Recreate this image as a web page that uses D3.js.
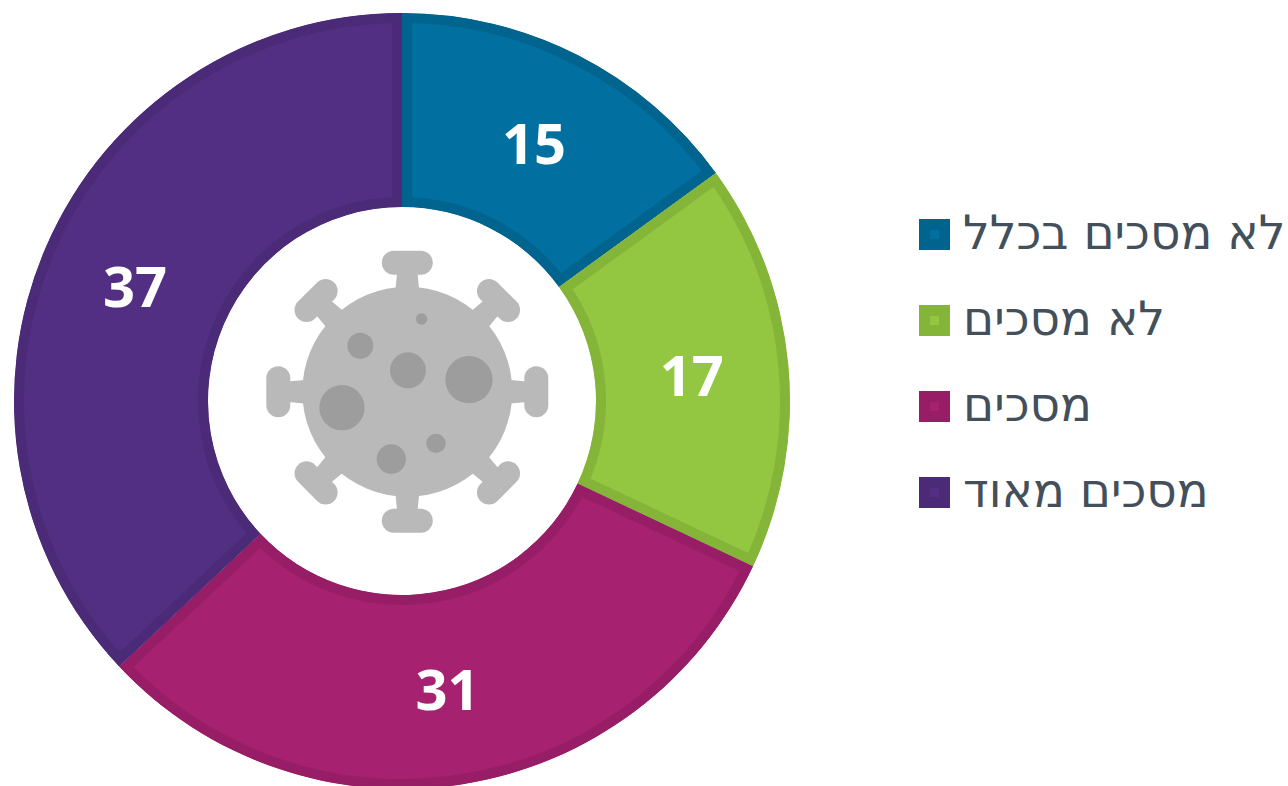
<!DOCTYPE html>
<html><head><meta charset="utf-8">
<script src="https://cdn.jsdelivr.net/npm/d3@7"></script>
<style>html,body{margin:0;padding:0;background:#fff;overflow:hidden}svg{display:block}</style>
</head><body><svg id="c" width="1288" height="786"></svg>
<script>
const categories = ["לא מסכים בכלל","לא מסכים","מסכים","מסכים מאוד"];
const values = [15,17,31,37];
const fills = ["#016FA0","#93C741","#A62170","#532F84"];
const edges = ["#00648F","#85B538","#971E66","#4B2B78"];

const svg = d3.select("#c");
const cx=402, cy=401, R=388, r=194, border=10;
const font = "'Open Sans', sans-serif";
const legendFont = "'DejaVu Sans', sans-serif";
const root = svg.append("g").attr("transform",`translate(${cx},${cy})`);
const pie = d3.pie().sort(null)(values);
const arc = d3.arc().innerRadius(r).outerRadius(R);
const labelArc = d3.arc().innerRadius(R-97).outerRadius(R-97);
const defs = svg.append("defs");
pie.forEach((d,i)=>{
  defs.append("clipPath").attr("id","s"+i).append("path").attr("d",arc(d));
  root.append("path").attr("d",arc(d)).attr("fill",fills[i])
    .attr("stroke",edges[i]).attr("stroke-width",border*2).attr("stroke-linejoin","miter")
    .attr("clip-path",`url(#s${i})`);
});
root.selectAll("text.v").data(pie).join("text").attr("class","v")
  .attr("x",d=>labelArc.centroid(d)[0]).attr("y",d=>labelArc.centroid(d)[1]+22)
  .attr("text-anchor","middle").attr("font-family",font).attr("font-weight",700)
  .attr("font-size",56).attr("fill","#fff").text(d=>d.data);

// virus icon
const body="#B9B9B9", crater="#9D9D9D";
const virus = svg.append("g").attr("transform","translate(407.3,391.7)");
d3.range(8).forEach(k=>{
  const g=virus.append("g").attr("transform",`rotate(${k*45})`).attr("fill",body);
  g.append("path").attr("d","M-12,-100 L-10,-122 L10,-122 L12,-100 Z");
  g.append("rect").attr("x",-25.5).attr("y",-141).attr("width",51).attr("height",24).attr("rx",12);
});
virus.append("circle").attr("r",105).attr("fill",body);
const craters=[[515,237,17],[331,317,39],[474,391,54],[657,419,71],[276,503,68],[558,610,29],[424,657,44]];
virus.selectAll("circle.k").data(craters).join("circle").attr("class","k")
  .attr("cx",d=>(d[0]-472)/3).attr("cy",d=>(d[1]-455)/3).attr("r",d=>d[2]/3).attr("fill",crater);

// legend
const legend = svg.append("g");
const y = d3.scalePoint().domain(categories).range([234.5,492.5]);
categories.forEach((c,i)=>{
  const g=legend.append("g").attr("transform",`translate(0,${y(c)})`);
  g.append("rect").attr("x",919).attr("y",-15.5).attr("width",31).attr("height",31).attr("fill",edges[i]);
  g.append("rect").attr("x",930).attr("y",-4.5).attr("width",9).attr("height",9).attr("fill",fills[i]);
  g.append("text").attr("x",963).attr("y",14.5).attr("direction","rtl").attr("text-anchor","end")
    .attr("font-family",legendFont).attr("font-size",47).attr("fill","#434F5A").text(c);
});
</script></body></html>
